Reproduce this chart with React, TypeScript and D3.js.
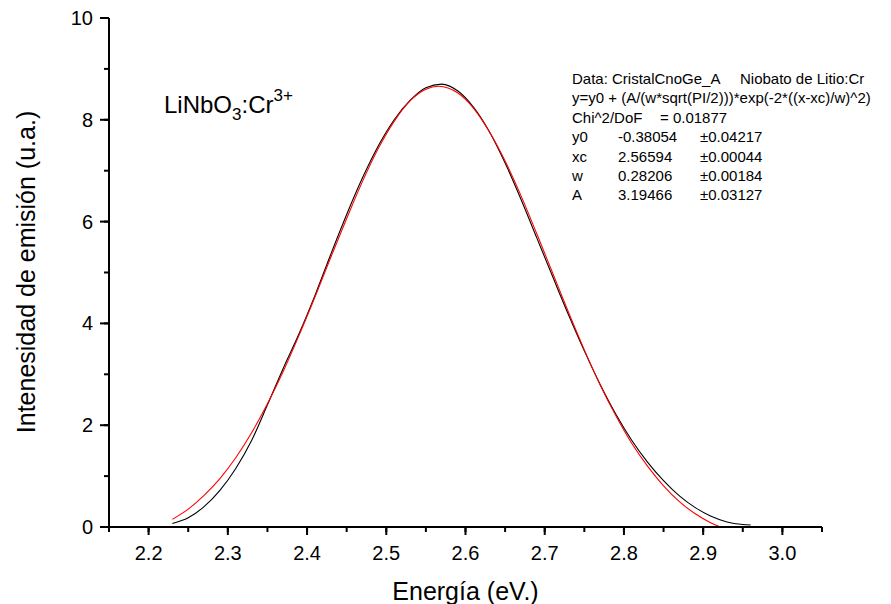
import React from 'react'
import * as d3 from 'd3'

const energyData = [2.23, 2.25, 2.27, 2.29, 2.31, 2.33, 2.35, 2.37, 2.39, 2.41, 2.43, 2.45, 2.47, 2.49, 2.51, 2.53, 2.55, 2.57, 2.59, 2.61, 2.63, 2.65, 2.67, 2.69, 2.71, 2.73, 2.75, 2.77, 2.79, 2.81, 2.83, 2.85, 2.87, 2.89, 2.91, 2.93, 2.95, 2.96]
const intensityData = [0.07, 0.18, 0.40, 0.72, 1.15, 1.70, 2.40, 3.12, 3.80, 4.55, 5.36, 6.14, 6.86, 7.49, 8.00, 8.38, 8.63, 8.70, 8.57, 8.25, 7.77, 7.15, 6.44, 5.68, 4.92, 4.17, 3.46, 2.80, 2.21, 1.70, 1.27, 0.91, 0.61, 0.38, 0.21, 0.10, 0.05, 0.04]

const energyFit = [2.23, 2.25, 2.27, 2.29, 2.31, 2.33, 2.35, 2.37, 2.39, 2.41, 2.43, 2.45, 2.47, 2.49, 2.51, 2.53, 2.55, 2.566, 2.59, 2.61, 2.63, 2.65, 2.67, 2.69, 2.71, 2.73, 2.75, 2.77, 2.79, 2.81, 2.83, 2.85, 2.87, 2.89, 2.91, 2.922]
const intensityFit = [0.15, 0.35, 0.62, 0.95, 1.36, 1.85, 2.42, 3.06, 3.77, 4.52, 5.30, 6.06, 6.79, 7.44, 7.97, 8.37, 8.60, 8.66, 8.53, 8.23, 7.77, 7.19, 6.51, 5.76, 4.99, 4.22, 3.48, 2.79, 2.18, 1.64, 1.19, 0.81, 0.50, 0.26, 0.08, 0.0]

const xTicks = [2.2, 2.3, 2.4, 2.5, 2.6, 2.7, 2.8, 2.9, 3.0]
const yTicks = [0, 2, 4, 6, 8, 10]

const fitLines = [
    ['y0', '-0.38054', '\u00b10.04217'],
    ['xc', '2.56594', '\u00b10.00044'],
    ['w', '0.28206', '\u00b10.00184'],
    ['A', '3.19466', '\u00b10.03127'],
]

const W = 891
const H = 604
const font = 'Arial, "Liberation Sans", sans-serif'

export default function App() {
    const x = d3.scaleLinear().domain([2.15, 3.05]).range([109, 822])
    const y = d3.scaleLinear().domain([0, 10]).range([527, 18])

    const dataPts = energyData.map((e, i) => [e, intensityData[i]])
    const fitPts = energyFit.map((e, i) => [e, intensityFit[i]])
    const line = d3.line().x(d => x(d[0])).y(d => y(d[1])).curve(d3.curveMonotoneX)

    const xMinor = d3.range(2.15, 3.06, 0.05).map(v => +v.toFixed(2))
    const yMinor = d3.range(0, 10.5, 1)

    const tx = 572
    const row0 = 84
    const dy = 19.4

    return (
        <svg width={W} height={H} style={{ position: 'absolute', left: 0, top: 0, background: 'white' }} fontFamily={font}>
            <path d={line(dataPts)} fill="none" stroke="black" strokeWidth={1.1} />
            <path d={line(fitPts)} fill="none" stroke="red" strokeWidth={1.1} />

            {/* axes */}
            <line x1={x(2.15)} x2={x(3.05)} y1={y(0)} y2={y(0)} stroke="black" strokeWidth={2} />
            <line x1={x(2.15)} x2={x(2.15)} y1={y(0)} y2={y(10)} stroke="black" strokeWidth={2} />
            {xMinor.map(v => (
                <line key={'xm' + v} x1={x(v)} x2={x(v)} y1={y(0)} y2={y(0) + 5} stroke="black" strokeWidth={2} />
            ))}
            {xTicks.map(v => (
                <g key={'x' + v}>
                    <line x1={x(v)} x2={x(v)} y1={y(0)} y2={y(0) + 8} stroke="black" strokeWidth={2} />
                    <text x={x(v)} y={560} textAnchor="middle" fontSize={20}>{v.toFixed(1)}</text>
                </g>
            ))}
            {yMinor.map(v => (
                <line key={'ym' + v} x1={x(2.15)} x2={x(2.15) - 5} y1={y(v)} y2={y(v)} stroke="black" strokeWidth={2} />
            ))}
            {yTicks.map(v => (
                <g key={'y' + v}>
                    <line x1={x(2.15)} x2={x(2.15) - 9} y1={y(v)} y2={y(v)} stroke="black" strokeWidth={2} />
                    <text x={93} y={y(v) + 7} textAnchor="end" fontSize={20}>{v}</text>
                </g>
            ))}

            <text x={(x(2.15) + x(3.05)) / 2} y={600} textAnchor="middle" fontSize={25}>Energía (eV.)</text>
            <text transform={`translate(35,${272}) rotate(-90)`} textAnchor="middle" fontSize={25}>Intenesidad de emisión (u.a.)</text>

            <text x={164} y={113} fontSize={24}>
                LiNbO<tspan fontSize={17} dy={7}>3</tspan><tspan dy={-7}>:Cr</tspan><tspan fontSize={17} dy={-12}>3+</tspan>
            </text>

            <g fontSize={15}>
                <text x={tx} y={row0}>Data: CristalCnoGe_A</text>
                <text x={740} y={row0}>Niobato de Litio:Cr</text>
                <text x={tx} y={row0 + dy}>y=y0 + (A/(w*sqrt(PI/2)))*exp(-2*((x-xc)/w)^2)</text>
                <text x={tx} y={row0 + 2 * dy}>Chi^2/DoF</text>
                <text x={660} y={row0 + 2 * dy}>= 0.01877</text>
                {fitLines.map((r, i) => (
                    <g key={r[0]}>
                        <text x={tx} y={row0 + (3 + i) * dy}>{r[0]}</text>
                        <text x={618} y={row0 + (3 + i) * dy}>{r[1]}</text>
                        <text x={700} y={row0 + (3 + i) * dy}>{r[2]}</text>
                    </g>
                ))}
            </g>
        </svg>
    )
}
